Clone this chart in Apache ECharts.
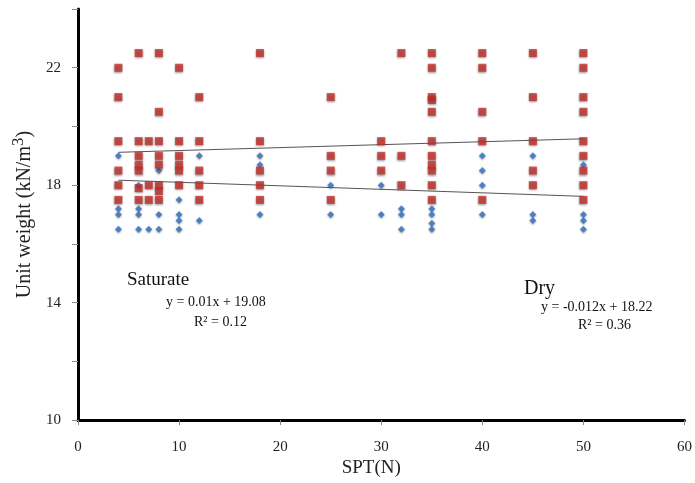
<!DOCTYPE html>
<html>
<head>
<meta charset="utf-8">
<script src="https://cdn.jsdelivr.net/npm/echarts@6/dist/echarts.min.js"></script>
<style>html,body{margin:0;padding:0;background:#fff}#c{width:695px;height:483px}</style>
</head>
<body>
<div id="c"></div>
<script>
// SPT (N) columns and unit weight values
var dryX = [4,4,4,4, 6,6,6,6, 7, 8,8,8, 10,10,10,10, 12,12, 18,18,18, 25,25, 30,30, 32,32,32, 35,35,35,35, 40,40,40,40, 45,45,45, 50,50,50,50];
var dryY = [19,17.2,17,16.5, 18,17.2,17,16.5, 16.5, 18.5,17,16.5, 17.5,17,16.8,16.5, 19,16.8, 19,18.7,17, 18,17, 18,17, 17.2,17,16.5, 17.2,17,16.7,16.5, 19,18.5,18,17, 19,17,16.8, 18.7,17,16.8,16.5];

var satX = [4,4,4,4,4,4, 6,6,6,6,6,6,6, 7,7,7, 8,8,8,8,8,8,8,8, 10,10,10,10,10,10, 12,12,12,12,12, 18,18,18,18,18, 25,25,25,25, 30,30,30, 32,32,32, 35,35,35,35,35,35,35,35,35,35,35, 40,40,40,40,40, 45,45,45,45,45, 50,50,50,50,50,50,50,50,50];
var satY = [22,21,19.5,18.5,18,17.5, 22.5,19.5,19,18.7,18.5,17.9,17.5, 19.5,18,17.5, 22.5,20.5,19.5,19,18.7,18,17.8,17.5, 22,19.5,19,18.7,18.5,18, 21,19.5,18.5,18,17.5, 22.5,19.5,18.5,18,17.5, 21,19,18.5,17.5, 19.5,19,18.5, 22.5,19,18, 22.5,22,21,20.9,20.5,19.5,19,18.7,18.5,18,17.5, 22.5,22,20.5,19.5,17.5, 22.5,21,19.5,18.5,18, 22.5,22,21,20.5,19.5,19,18.5,18,17.5];

// trend lines (end points over the data range)
var satTrendX = [4, 50];
var satTrendY = [19.12, 19.58];
var dryTrendX = [4, 50];
var dryTrendY = [18.17, 17.62];

var yTickLabels = [10, 14, 18, 22];

function pairs(xs, ys){ var o=[]; for(var i=0;i<xs.length;i++) o.push([xs[i], ys[i]]); return o; }

var serif = "'Liberation Serif','Times New Roman',serif";
var chart = echarts.init(document.getElementById('c'));
chart.setOption({
  animation: false,
  backgroundColor: '#fff',
  grid: {left: 78, right: 9, top: 9, bottom: 62, containLabel: false},
  xAxis: {
    type: 'value', min: 0, max: 60, interval: 10,
    name: 'SPT(N)', nameLocation: 'middle', nameGap: 34,
    nameTextStyle: {fontFamily: serif, fontSize: 19, color: '#222', padding: [0, 20, 0, 0]},
    axisLine: {show: true, onZero: false, lineStyle: {color: '#000', width: 3}},
    axisTick: {show: true, length: 5, lineStyle: {color: '#888'}},
    axisLabel: {fontFamily: serif, fontSize: 15, color: '#222', margin: 19},
    splitLine: {show: false}
  },
  yAxis: {
    type: 'value', min: 10, max: 24, interval: 2,
    name: 'Unit weight (kN/m{s|3})', nameLocation: 'middle', nameGap: 39,
    nameTextStyle: {fontFamily: serif, fontSize: 20, color: '#222',
      rich: {s: {fontFamily: serif, fontSize: 17, color: '#222', verticalAlign: 'bottom', padding: [0,0,12,0]}}},
    axisLine: {show: true, onZero: false, lineStyle: {color: '#000', width: 3}},
    axisTick: {show: true, length: 6, lineStyle: {color: '#888'}},
    axisLabel: {fontFamily: serif, fontSize: 15, color: '#222', margin: 17,
      formatter: function(v){ return yTickLabels.indexOf(v) >= 0 ? String(v) : ''; }},
    splitLine: {show: false}
  },
  series: [
    {name: 'Dry', type: 'scatter', symbol: 'diamond', symbolSize: 7, data: pairs(dryX, dryY),
      itemStyle: {color: '#3572c0', shadowBlur: 2, shadowColor: 'rgba(0,0,0,0.45)', shadowOffsetY: 1}},
    {name: 'Saturate', type: 'scatter', symbol: 'rect', symbolSize: 8, data: pairs(satX, satY),
      itemStyle: {color: '#c0312c', shadowBlur: 2, shadowColor: 'rgba(0,0,0,0.5)', shadowOffsetY: 1}},
    {name: 'Saturate trend', type: 'line', showSymbol: false, symbol: 'none', data: pairs(satTrendX, satTrendY),
      lineStyle: {color: '#555', width: 1}, z: 1},
    {name: 'Dry trend', type: 'line', showSymbol: false, symbol: 'none', data: pairs(dryTrendX, dryTrendY),
      lineStyle: {color: '#555', width: 1}, z: 1}
  ],
  graphic: [
    {type: 'text', left: 127, top: 271, style: {text: 'Saturate', font: '19px ' + serif, fill: '#111'}},
    {type: 'text', left: 166, top: 295, style: {text: 'y = 0.01x + 19.08', font: '14px ' + serif, fill: '#111'}},
    {type: 'text', left: 194, top: 315, style: {text: 'R\u00b2 = 0.12', font: '14px ' + serif, fill: '#111'}},
    {type: 'text', left: 524, top: 279, style: {text: 'Dry', font: '20px ' + serif, fill: '#111'}},
    {type: 'text', left: 541, top: 300, style: {text: 'y = -0.012x + 18.22', font: '14px ' + serif, fill: '#111'}},
    {type: 'text', left: 578, top: 318, style: {text: 'R\u00b2 = 0.36', font: '14px ' + serif, fill: '#111'}}
  ]
});
</script>
</body>
</html>
